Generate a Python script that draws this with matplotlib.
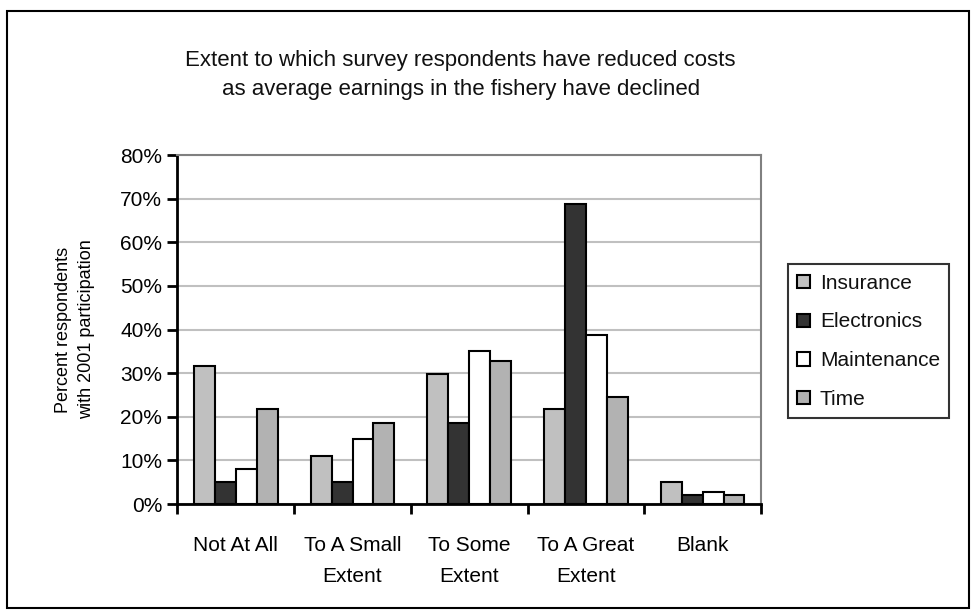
import numpy as np
import matplotlib
matplotlib.use("Agg")
import matplotlib.pyplot as plt
from matplotlib.patches import Patch, Rectangle
from matplotlib.ticker import PercentFormatter, MultipleLocator

categories = ["Not At All", "To A Small\nExtent", "To Some\nExtent", "To A Great\nExtent", "Blank"]
series_names = ["Insurance", "Electronics", "Maintenance", "Time"]
insurance = [31.7, 11.0, 29.9, 21.8, 5.1]
electronics = [5.0, 5.0, 18.6, 68.7, 2.1]
maintenance = [8.1, 14.9, 35.0, 38.7, 2.8]
time_cost = [21.8, 18.6, 32.7, 24.6, 2.1]
series_values = [insurance, electronics, maintenance, time_cost]
series_colors = ["#C0C0C0", "#333333", "#FFFFFF", "#B2B2B2"]

plt.rcParams["font.family"] = ["Liberation Sans", "DejaVu Sans"]
plt.rcParams["text.color"] = "#111111"

fig = plt.figure(figsize=(9.74, 6.13), dpi=100)
ax = fig.add_axes([0.1822, 0.1778, 0.5991, 0.5693])

x = np.arange(len(categories))
bar_w = 0.179
for i, (vals, col) in enumerate(zip(series_values, series_colors)):
    ax.bar(x + (i - 1.5) * bar_w, vals, width=bar_w, color=col,
           edgecolor="black", linewidth=1.5, zorder=3)

ax.set_xlim(-0.5, len(categories) - 0.5)
ax.set_ylim(0, 80)
ax.yaxis.set_major_locator(MultipleLocator(10))
ax.yaxis.set_major_formatter(PercentFormatter(decimals=0))
ax.grid(axis="y", color="#C0C0C0", linewidth=1.5, zorder=0)
ax.set_axisbelow(True)

ax.set_xticks(x)
ax.set_xticklabels(categories, fontsize=15, linespacing=1.8)
ax.set_xticks(np.arange(len(categories) + 1) - 0.5, minor=True)
ax.tick_params(axis="x", which="major", length=0, pad=23)
ax.tick_params(axis="x", which="minor", length=7, width=2, direction="out")
ax.tick_params(axis="y", length=7, width=2, direction="out", labelsize=15, pad=4)

for side in ("left", "bottom"):
    ax.spines[side].set_color("black")
    ax.spines[side].set_linewidth(2)
for side in ("top", "right"):
    ax.spines[side].set_color("#808080")
    ax.spines[side].set_linewidth(1.5)

ax.set_ylabel("Percent respondents\nwith 2001 participation", fontsize=13,
              linespacing=1.45, labelpad=18)

fig.text(0.473, 0.8777, "Extent to which survey respondents have reduced costs\n"
         "as average earnings in the fishery have declined",
         ha="center", va="center", fontsize=16, linespacing=1.55)

handles = [Patch(facecolor=c, edgecolor="black", linewidth=1.5) for c in series_colors]
leg = fig.legend(handles, series_names, loc="upper left",
                 bbox_to_anchor=(787.7 / 974, 1 - 264.3 / 613),
                 fontsize=15, frameon=True, fancybox=False,
                 handlelength=0.6, handleheight=0.6, handletextpad=0.5,
                 labelspacing=0.95, borderpad=0.45, borderaxespad=0)
leg.get_frame().set_edgecolor("black")
leg.get_frame().set_linewidth(1.5)

fig.patches.append(Rectangle((7 / 974, 5 / 613), 962 / 974, 597 / 613,
                             transform=fig.transFigure, fill=False,
                             edgecolor="black", linewidth=1.5))

fig.savefig("out.png", dpi=100)
